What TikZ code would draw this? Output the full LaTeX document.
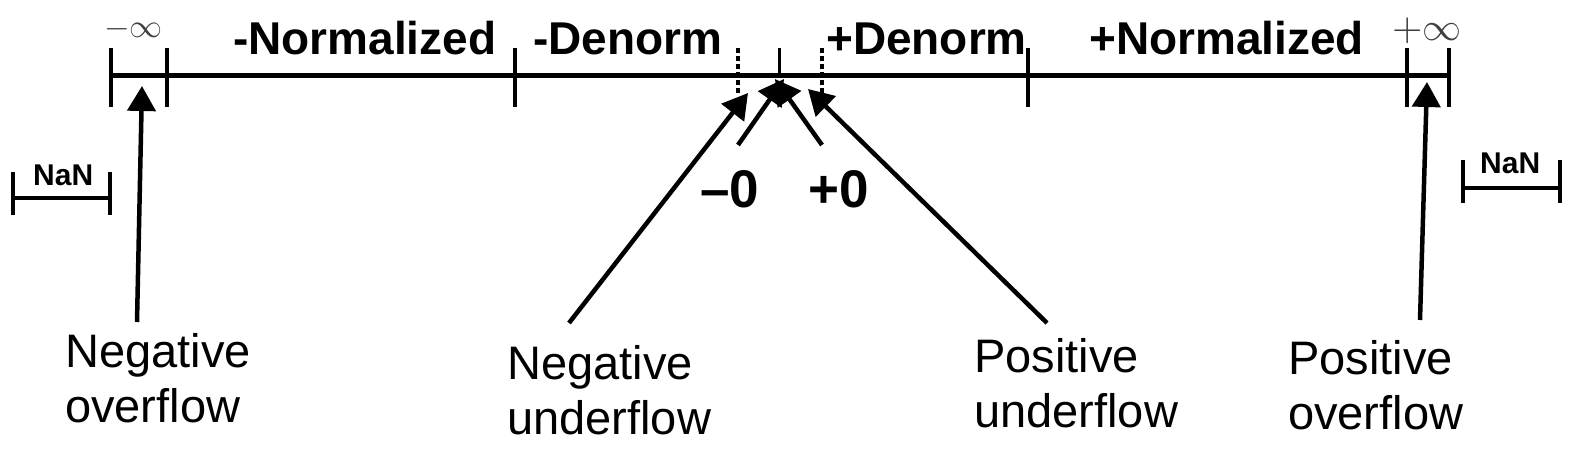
\documentclass[tikz,border=0pt]{standalone}
\usepackage{fontspec}
\setmainfont{Liberation Sans}
\usetikzlibrary{arrows.meta}
\tikzset{
  axisline/.style={line width=5pt},
  tickline/.style={line width=4pt},
  dtickline/.style={line width=3.5pt, dash pattern=on 5pt off 3pt},
  rangelab/.style={font=\fontsize{46}{54}\selectfont\bfseries, inner sep=0pt, anchor=base west},
  botlab/.style={font=\fontsize{47}{55}\selectfont, inner sep=0pt, anchor=north west, align=left},
  zerolab/.style={font=\fontsize{53}{60}\selectfont\bfseries, inner sep=0pt, anchor=base west},
  nanlab/.style={font=\fontsize{30}{34}\selectfont\bfseries, inner sep=0pt, anchor=base west},
  inflab/.style={inner sep=0pt, anchor=base west, text=black!75},
  bigarrow/.style={line width=4.5pt, -{Triangle[width=28pt,length=25pt]}},
  smallarrow/.style={line width=4.5pt, -{Triangle[width=28pt,length=25pt]}}
}
\begin{document}
\begin{tikzpicture}[x=1pt,y=-1pt]
\useasboundingbox (0,0) rectangle (1574,452);
% axis
\coordinate (L) at (111,76);
\coordinate (R) at (1449,76);
\draw[axisline] (L) -- (R);
\foreach \x in {111,167,515,1028,1407,1449}{\draw[tickline] (\x,48) -- (\x,107);}
\draw[tickline, line width=3pt] (779,48) -- (779,76);
\draw[dtickline] (738,48) -- (738,95);
\draw[dtickline] (822,48) -- (822,95);
% range labels
\node[rangelab] (nn) at (233,55) {-Normalized};
\node[rangelab] (nd) at (533,55) {-Denorm};
\node[rangelab] (pd) at (826,55) {+Denorm};
\node[rangelab] (pn) at (1089,55) {+Normalized};
\node[inflab] (minf) at (104,38) {\scalebox{3.3}{$-\infty$}};
\node[inflab] (pinf) at (1392,41) {\scalebox{3.9}{$+\infty$}};
% NaN brackets
\draw[tickline] (13,172) -- (13,215);
\draw[tickline] (110,172) -- (110,215);
\draw[tickline] (13,198) -- (110,198);
\node[nanlab] (nanl) at (33,185) {NaN};
\draw[tickline] (1463,160) -- (1463,203);
\draw[tickline] (1560,160) -- (1560,203);
\draw[tickline] (1463,188) -- (1560,188);
\node[nanlab] (nanr) at (1480,173) {NaN};
% zeros
\node[zerolab] (mz) at (700,207) {–0};
\node[zerolab] (pz) at (808,207) {+0};
% bottom labels
\node[botlab] (negov) at (65,333) {Negative\\overflow};
\node[botlab] (negun) at (507,345) {Negative\\underflow};
\node[botlab] (posun) at (974,338) {Positive\\underflow};
\node[botlab] (posov) at (1288,340) {Positive\\overflow};
% arrow tips and tails
\coordinate (tnov) at (142,86);
\coordinate (tnun) at (748,93);
\coordinate (tmz) at (784,79);
\coordinate (tpz) at (775,79);
\coordinate (tpun) at (808,89);
\coordinate (tpov) at (1427,82);
\coordinate (smz) at (738,145);
\coordinate (spz) at (822,145);
\draw[bigarrow] (negov.north west) ++(72,-11) -- (tnov);
\draw[bigarrow] (negun.north west) ++(62,-22) -- (tnun);
\draw[smallarrow] (smz) -- (tmz);
\draw[smallarrow] (spz) -- (tpz);
\draw[bigarrow] (posun.north west) ++(73,-15) -- (tpun);
\draw[bigarrow] (posov.north west) ++(132,-20) -- (tpov);
\end{tikzpicture}
\end{document}
